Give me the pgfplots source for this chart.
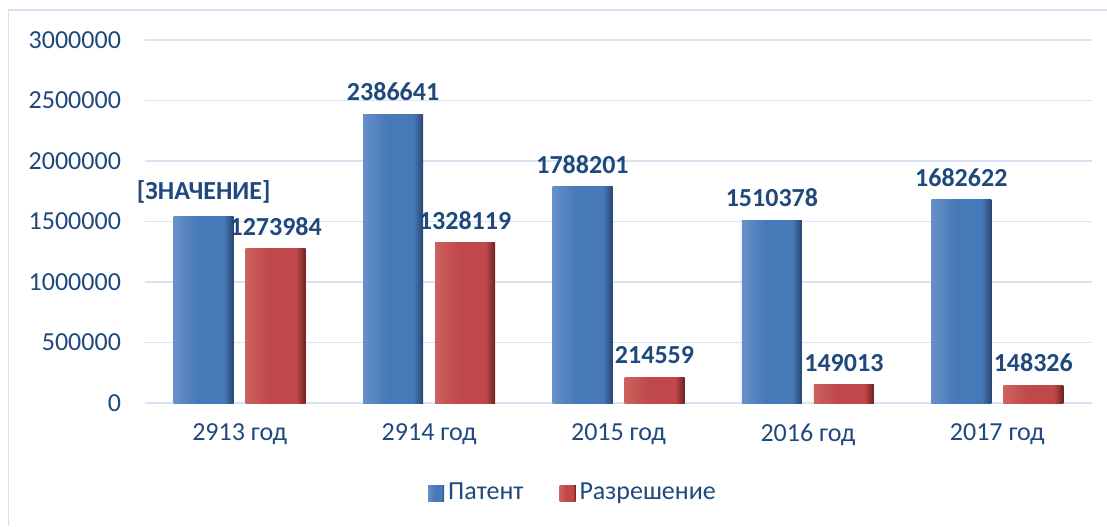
\documentclass[border=0pt]{standalone}
\usepackage{fontspec}
\setmainfont{Carlito}
\usepackage{pgfplots}
\pgfplotsset{compat=1.18}
\usepackage{pgfplotstable}

\definecolor{txt}{HTML}{1F497D}
\definecolor{gridc}{HTML}{D9E2F3}
\definecolor{framec}{HTML}{D6E0F2}
\definecolor{bA}{HTML}{6690C8}
\definecolor{bB}{HTML}{4679B8}
\definecolor{bC}{HTML}{28456E}
\definecolor{rA}{HTML}{CC625E}
\definecolor{rB}{HTML}{C0484A}
\definecolor{rC}{HTML}{6E2222}

% light left edge, flat middle, dark right edge
\pgfdeclarehorizontalshading{bluebar}{100bp}{color(0bp)=(bA); color(25bp)=(bA); color(45bp)=(bB); color(67bp)=(bB); color(75bp)=(bC); color(100bp)=(bC)}
\pgfdeclarehorizontalshading{redbar}{100bp}{color(0bp)=(rA); color(25bp)=(rA); color(45bp)=(rB); color(67bp)=(rB); color(75bp)=(rC); color(100bp)=(rC)}

\pgfplotstableread{
x patent plabel razr
0 1540000 {[ЗНАЧЕНИЕ]} 1273984
1 2386641 2386641 1328119
2 1788201 1788201 214559
3 1510378 1510378 149013
4 1682622 1682622 148326
}\datatab

\begin{document}
\begin{tikzpicture}
\useasboundingbox (-72.5pt,-61.5pt) rectangle (481pt,201.5pt);
\begin{axis}[
	scale only axis, width=473.5pt, height=181.5pt,
	xmin=-0.5, xmax=4.5, ymin=0, ymax=3000000,
	ybar, bar width=30pt,
	xtick={0,1,2,3,4},
	xticklabels={2913 год, 2914 год, 2015 год, 2016 год, 2017 год},
	ytick={0,500000,1000000,1500000,2000000,2500000,3000000},
	scaled y ticks=false,
	yticklabel style={/pgf/number format/fixed, /pgf/number format/precision=0,
		/pgf/number format/1000 sep={}, /pgf/number format/assume math mode=true, xshift=-8.5pt},
	xticklabel style={yshift=-7pt},
	tick label style={font=\fontsize{13}{15}\selectfont, text=txt},
	ymajorgrids, grid style={gridc, line width=0.75pt},
	axis line style={draw=none}, major tick length=0pt,
	clip=false,
	nodes near coords, point meta=explicit symbolic,
	every node near coord/.append style={font=\bfseries\fontsize{13}{15}\selectfont, text=txt, anchor=south, yshift=3pt},
	legend columns=2,
	legend style={draw=none, fill=none, at={(0.453,-0.248)}, anchor=center,
		font=\fontsize{13}{15}\selectfont, text=txt,
		/tikz/every even column/.append style={column sep=16pt}},
	legend image code/.code={\fill[#1, draw=none] (0pt,-4pt) rectangle (8pt,4pt);},
	]
	% one plot per bar, so that each bar gets its own shading
	\pgfplotsinvokeforeach{0,1,2,3,4}{
		\addplot[draw=none, shading=bluebar, bar shift=-18pt, forget plot,
			restrict x to domain=#1:#1] table[x=x, y=patent, meta=plabel] {\datatab};
		\addplot[draw=none, shading=redbar, bar shift=18pt, forget plot,
			restrict x to domain=#1:#1] table[x=x, y=razr, meta=razr] {\datatab};
	}
	\addlegendimage{shading=bluebar}
	\addlegendimage{shading=redbar}
	\legend{Патент, Разрешение}
\end{axis}
\draw[framec, line width=0.75pt] (-68.25pt,-61.5pt) -- (-68.25pt,196.5pt) -- (481pt,196.5pt);
\end{tikzpicture}
\end{document}
